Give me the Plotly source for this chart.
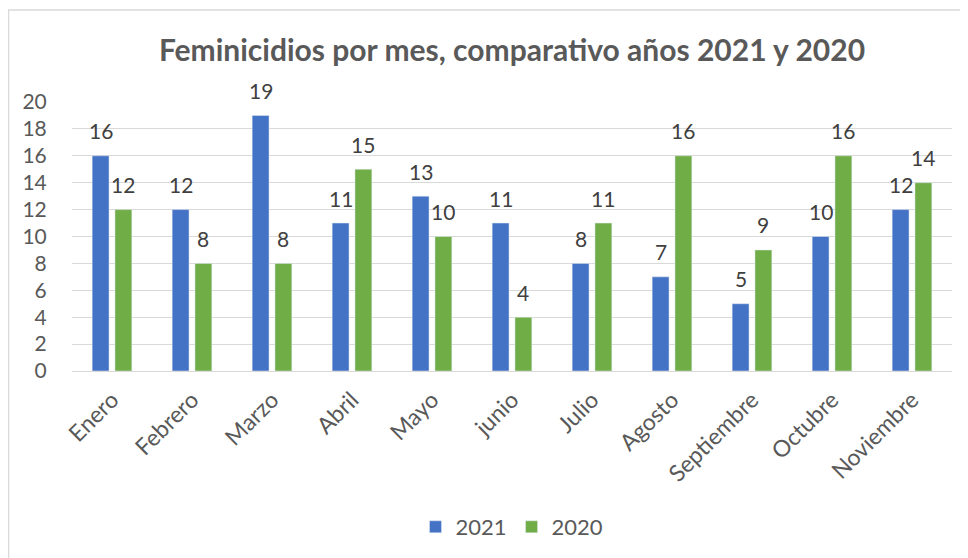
import plotly.graph_objects as go

months = ["Enero", "Febrero", "Marzo", "Abril", "Mayo", "junio", "Julio",
          "Agosto", "Septiembre", "Octubre", "Noviembre"]
v2021 = [16, 12, 19, 11, 13, 11, 8, 7, 5, 10, 12]
v2020 = [12, 8, 8, 15, 10, 4, 11, 16, 9, 16, 14]
y_ticks = list(range(0, 21, 2))

FONT = "Lato, Carlito, 'Liberation Sans', sans-serif"
OFF = 8  # page body margin
W, H = 968 - OFF, 558 - OFF
ML, MT = 72 - OFF, 102 - OFF
PR, PB = 952 - OFF, 371 - OFF
MR, MB = W - PR, H - PB
pw, ph = PR - ML, PB - MT

BARGAP, GROUPGAP = 0.43, 0.26
cat_px = pw / len(months)
slot_px = cat_px * (1 - BARGAP) / 2

fig = go.Figure()
fig.add_trace(go.Bar(name="2021", x=months, y=v2021, marker_color="#4472C4"))
fig.add_trace(go.Bar(name="2020", x=months, y=v2020, marker_color="#70AD47"))

# data labels above bars
for vals, sign in ((v2021, -1), (v2020, 1)):
    for m, v in zip(months, vals):
        fig.add_annotation(x=m, y=v, xref="x", yref="y", text=str(v), showarrow=False,
                           xshift=sign * slot_px / 2, yshift=25, yanchor="middle",
                           font=dict(size=21, color="#404040", family=FONT))

fig.update_layout(
    width=W, height=H,
    margin=dict(l=ML, r=MR, t=MT, b=MB, autoexpand=False),
    paper_bgcolor="white", plot_bgcolor="white",
    barmode="group", bargap=BARGAP, bargroupgap=GROUPGAP,
    font=dict(family=FONT, color="#595959"),
    title=dict(text="<b>Feminicidios por mes, comparativo años 2021 y 2020</b>",
               x=0.5, xref="paper", xanchor="center", y=1 - (50 - OFF) / H, yanchor="middle",
               font=dict(size=30, color="#595959", family=FONT)),
    yaxis=dict(range=[0, 20], tickvals=y_ticks, showgrid=True, gridcolor="#D9D9D9",
               gridwidth=1, zeroline=True, zerolinecolor="#D9D9D9", zerolinewidth=1,
               tickfont=dict(size=21, color="#595959"), ticks="outside", ticklen=20,
               tickcolor="rgba(0,0,0,0)", showline=False),
    xaxis=dict(tickangle=-45, tickfont=dict(size=23, color="#595959"), showline=False,
               ticks="", ticklabelstandoff=10),
    legend=dict(orientation="h", x=0.5, xanchor="center", xref="paper",
                y=-((527 - OFF) - PB) / ph, yanchor="middle", itemwidth=30,
                font=dict(size=22, color="#595959"), traceorder="normal"),
    showlegend=True,
)

fig.add_shape(type="rect", xref="paper", yref="paper",
              x0=(8 - OFF - ML + 0.5) / pw, x1=(990 - OFF - ML) / pw,
              y0=-(580 - OFF - PB) / ph, y1=(PB - (10 - OFF)) / ph,
              line=dict(color="#D9D9D9", width=1.5), fillcolor="rgba(0,0,0,0)", layer="below")

fig.write_html("out.html")
